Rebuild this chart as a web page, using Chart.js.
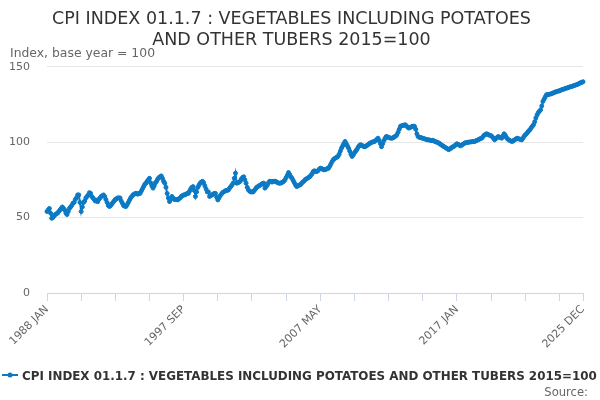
<!DOCTYPE html>
<html>
<head>
<meta charset="utf-8">
<style>
  html, body { margin: 0; padding: 0; background: #fff; }
  #wrap { width: 600px; height: 400px; position: relative; }
</style>
<script src="https://cdn.jsdelivr.net/npm/chart.js@4.4.1/dist/chart.umd.min.js"></script>
</head>
<body>
<div id="wrap"><canvas id="cpi"></canvas></div>
<script>
const TITLE = ['CPI INDEX 01.1.7 : VEGETABLES INCLUDING POTATOES', 'AND OTHER TUBERS 2015=100'];
const SERIES_NAME = 'CPI INDEX 01.1.7 : VEGETABLES INCLUDING POTATOES AND OTHER TUBERS 2015=100';
const Y_TITLE = 'Index, base year = 100';
const MONTHS = ['JAN', 'FEB', 'MAR', 'APR', 'MAY', 'JUN', 'JUL', 'AUG', 'SEP', 'OCT', 'NOV', 'DEC'];
const FIRST_YEAR = 1988;
const Y_TICKS = [0, 50, 100, 150];

// monthly index values, one row per year (Jan..Dec)
const values = [
  54, 55, 56, 53, 49.5, 50, 51, 52, 52.5, 53, 54, 55,            // 1988
  56, 57, 56, 55, 53, 52, 54, 56, 57, 58, 59.5, 60,              // 1989
  62, 63, 65, 65, 60, 54, 57, 60, 61, 63, 64, 65,                // 1990
  66.5, 66, 64, 63, 62, 61, 61.5, 60.5, 62, 63, 64, 64.5,        // 1991
  65, 64, 62, 60, 58, 57.3, 58, 59, 60, 61, 62, 62.5,            // 1992
  63, 63, 63, 61, 59.5, 58, 57.5, 57.3, 58.5, 60, 61.5, 63,      // 1993
  64, 65, 65.5, 66, 66, 65.5, 66, 66, 67.5, 69, 70.5, 72,        // 1994
  72.8, 74, 75, 76, 73, 71, 69.5, 71, 73, 74, 75.5, 76.5,        // 1995
  77, 77.6, 76, 74, 72.8, 70, 66, 63, 60.6, 62, 64, 63,          // 1996
  62, 62, 62, 61.7, 62.5, 63, 64, 64.5, 65, 65, 65.5, 66,        // 1997
  66, 67.5, 69, 70, 70.5, 68, 64, 67, 70, 71.5, 72.8, 73.5,      // 1998
  74, 73, 71, 69, 67, 67, 64, 64.5, 65, 65.5, 66, 66,            // 1999
  63.5, 61.7, 63, 64.5, 65.5, 66.5, 67, 67.5, 68, 68, 68.3, 69.5, // 2000
  70.5, 71.5, 72.8, 76, 79.4, 72.8, 73, 73.5, 74, 75.5, 76.5, 77, // 2001
  75, 72.8, 70, 68.3, 67.5, 67, 67, 67, 68, 69, 70, 70.5,        // 2002
  71, 71.5, 72, 72.5, 72.8, 69.5, 70.5, 71.5, 73, 74, 74, 73.5,  // 2003
  74, 74, 74, 73.5, 73, 72.8, 72.8, 73, 73.5, 74, 75, 76.5,      // 2004
  78, 79.8, 78.5, 77, 76, 74.5, 73, 71.5, 70.5, 71, 71.5, 71.7,  // 2005
  72.5, 73.5, 74, 75, 75.5, 76, 76.5, 77, 78, 79, 80.5, 81,      // 2006
  80.5, 80.5, 81, 82, 82.7, 82.5, 82, 81.6, 81.8, 82, 82.5, 82.7, // 2007
  84, 85.5, 87, 88.3, 89, 89.5, 90, 90.5, 92, 94, 96, 97.5,      // 2008
  99, 100.4, 99, 97.5, 96, 94, 92, 90.5, 91.5, 93, 94, 95,       // 2009
  96.5, 97.5, 98.2, 98, 97.5, 97, 97, 97.5, 98, 98.5, 99.3, 99.5, // 2010
  100, 100.2, 100.4, 101, 101.8, 102.6, 101, 99, 97, 99, 101, 102.5, // 2011
  103.7, 103.5, 103, 102.8, 102.6, 102.6, 103, 103.5, 104, 104.8, 106.5, 108.5, // 2012
  110.4, 110.8, 111, 111.2, 111.5, 110.8, 110, 109.3, 109.5, 110, 110.4, 110.6, // 2013
  110.4, 108.5, 105.5, 103.7, 103.2, 103, 102.8, 102.5, 102.3, 102, 101.8, 101.5, // 2014
  101.5, 101.3, 101, 101.2, 101, 100.5, 100.2, 100, 99.5, 99.3, 98.5, 98, // 2015
  97.5, 97, 96.5, 96, 95.5, 95, 95.5, 96, 96.7, 97, 97.5, 98.3,  // 2016
  98.9, 98.5, 98, 97.5, 98, 98.5, 99, 99.5, 99.7, 99.8, 100, 100, // 2017
  100.2, 100.3, 100.4, 100.4, 100.8, 101.2, 101.5, 102, 102.3, 102.6, 103.5, 104.5, // 2018
  105, 105.5, 105.2, 104.8, 104.5, 104.2, 103.5, 102.5, 101.5, 102.3, 103, 103.7, // 2019
  103.2, 103, 102.6, 104, 105.5, 104.5, 103, 102, 101.5, 101, 100.6, 100.4, // 2020
  101, 101.5, 102, 102.6, 102.3, 102, 101.8, 101.5, 102.5, 103.8, 104.8, 105.5, // 2021
  106.5, 107.5, 108.2, 109.5, 110.5, 111.5, 113.5, 116, 118, 119.5, 120.5, 121.4, // 2022
  124, 127, 128.5, 130, 131.4, 131.5, 131.6, 131.8, 132, 132.3, 132.7, 133, // 2023
  133.3, 133.6, 133.8, 134, 134.3, 134.7, 135, 135.2, 135.5, 135.8, 136, 136.3, // 2024
  136.6, 136.8, 137, 137.4, 137.6, 137.9, 138.2, 138.5, 139, 139.3, 139.6, 140  // 2025
];

const categories = values.map((v, i) => (FIRST_YEAR + Math.floor(i / 12)) + ' ' + MONTHS[i % 12]);

const LINE_COLOR = '#0b79c4';
const TICK_EVERY = 29;
const LABEL_EVERY = 116;

// legend, axis title and source note drawn straight on the canvas
const extraText = {
  id: 'extraText',
  afterDraw(chart) {
    const ctx = chart.ctx;
    ctx.save();
    ctx.textBaseline = 'alphabetic';

    ctx.fillStyle = '#666';
    ctx.font = '12.4px "DejaVu Sans"';
    ctx.textAlign = 'left';
    ctx.fillText(Y_TITLE, 10, 57);

    // legend symbol
    ctx.strokeStyle = LINE_COLOR;
    ctx.lineWidth = 2;
    ctx.beginPath();
    ctx.moveTo(2, 375);
    ctx.lineTo(18, 375);
    ctx.stroke();
    ctx.fillStyle = LINE_COLOR;
    ctx.beginPath();
    ctx.arc(10, 375, 2.5, 0, Math.PI * 2);
    ctx.fill();

    ctx.fillStyle = '#333';
    ctx.font = 'bold 11.9px "DejaVu Sans"';
    ctx.fillText(SERIES_NAME, 22, 380);

    ctx.fillStyle = '#666';
    ctx.font = '11.6px "DejaVu Sans"';
    ctx.textAlign = 'right';
    ctx.fillText('Source:', 588, 396);
    ctx.restore();
  }
};

const ctx = document.getElementById('cpi').getContext('2d');
new Chart(ctx, {
  type: 'line',
  data: {
    labels: categories,
    datasets: [
      {
        label: SERIES_NAME,
        data: values,
        borderColor: LINE_COLOR,
        backgroundColor: LINE_COLOR,
        borderWidth: 2,
        pointRadius: 2,
        pointBorderWidth: 1,
        pointBackgroundColor: LINE_COLOR,
        pointBorderColor: LINE_COLOR,
        tension: 0,
        fill: false,
      },
    ],
  },
  options: {
    responsive: true,
    maintainAspectRatio: false,
    animation: false,
    layout: {
      padding: { left: 0, right: 17, top: 0, bottom: 0 },
    },
    scales: {
      x: {
        offset: false,
        border: { display: true, color: '#ccd6eb', width: 1 },
        grid: {
          drawOnChartArea: false,
          drawTicks: true,
          tickLength: 8,
          tickColor: '#ccd6eb',
        },
        ticks: {
          autoSkip: false,
          maxRotation: 45,
          minRotation: 45,
          padding: 2,
          color: '#666',
          font: { family: 'DejaVu Sans', size: 11 },
          callback: function (value, index) {
            const last = categories.length - 1;
            if (index % LABEL_EVERY === 0 || index === last) {
              return categories[index];
            }
            if (index % TICK_EVERY === 0) {
              return '';
            }
            return null;
          },
        },
        afterFit: (scale) => { scale.height = 107; },
      },
      y: {
        min: 0,
        max: 150,
        border: { display: false },
        grid: {
          color: '#e6e6e6',
          drawTicks: false,
        },
        afterBuildTicks: (scale) => {
          scale.ticks = Y_TICKS.map((v) => ({ value: v }));
        },
        ticks: {
          padding: 17,
          color: '#666',
          font: { family: 'DejaVu Sans', size: 11 },
        },
        afterFit: (scale) => { scale.width = 47; },
      },
    },
    plugins: {
      legend: { display: false },
      tooltip: { enabled: false },
      title: {
        display: true,
        text: TITLE,
        color: '#333',
        font: { family: 'DejaVu Sans', size: 17.5, weight: 'normal', lineHeight: 1.19 },
        padding: { top: 9, bottom: 16 },
      },
    },
  },
  plugins: [extraText],
});
</script>
</body>
</html>
